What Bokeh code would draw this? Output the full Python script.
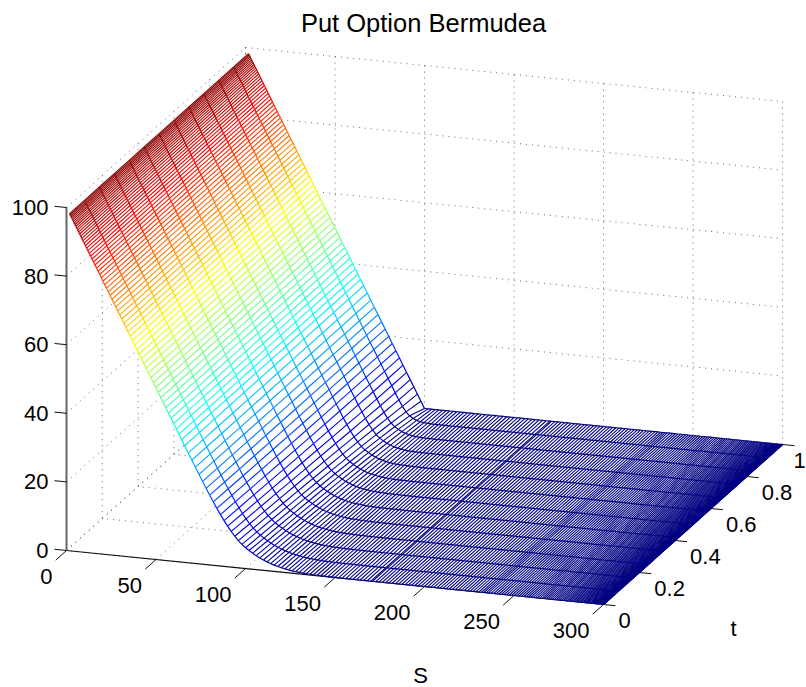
from bokeh.embed import file_html
from bokeh.models import Range1d, ColumnDataSource
from bokeh.plotting import figure
from bokeh.resources import INLINE
from bokeh.core.properties import value

TITLE = "Put Option Bermudea"
S_TICKS = [0, 50, 100, 150, 200, 250, 300]
T_TICKS = [0, 0.2, 0.4, 0.6, 0.8, 1]
T_TICK_TEXT = ["0", "0.2", "0.4", "0.6", "0.8", "1"]
V_TICKS = [0, 20, 40, 60, 80, 100]
T_LINES = [0, 1/12, 2/12, 3/12, 4/12, 5/12, 6/12, 7/12, 8/12, 9/12, 10/12, 11/12, 1]

# mesh lines below the knee, all t: option is worth its deep in-the-money value
S_LEFT = [1.70,2.00,2.32,2.66,3.02,3.41,3.82,4.26,4.71,5.19,5.70,6.22,6.77,7.34,7.93,8.55,9.19,9.85,10.53,11.24,
          11.96,12.71,13.48,14.27,15.09,15.92,16.78,17.65,18.55,19.47,20.41,21.37,22.35,23.35,24.37,25.41,26.47,
          27.55,28.65,29.76,30.89,32.04,33.21,34.40,35.60,36.82,38.06,39.31,40.58,41.86,43.16,44.47,45.80,47.14,
          48.50,49.87,51.25,52.65,54.06,55.48,56.92,58.37,59.83,61.30,62.79,64.29]
V_LEFT = [98.30,98.00,97.68,97.34,96.98,96.59,96.18,95.74,95.29,94.81,94.30,93.78,93.23,92.66,92.07,91.45,90.81,90.15,89.47,88.76,
          88.04,87.29,86.52,85.73,84.91,84.08,83.22,82.35,81.45,80.53,79.59,78.63,77.65,76.65,75.63,74.59,73.53,
          72.45,71.35,70.24,69.11,67.96,66.79,65.60,64.40,63.18,61.94,60.69,59.42,58.14,56.84,55.53,54.20,52.86,
          51.50,50.13,48.75,47.35,45.94,44.52,43.08,41.63,40.17,38.70,37.21,35.71]

# mesh lines across the knee, values per t line (rows short on the right continue at 0)
S_KNEE = [66,68,70,72,74,76,78,80,82,84,86,88,90,92,94,96,98,100,102,104,106,108,110,112,114,116,118,120,122,124,
          126,128,130,132,134,136,138,140,142,144,146,148,150,152,154,156,158,160,162,164,166,168,170]
V_T00 = [34.01,32.02,30.04,28.06,26.10,24.15,22.23,20.33,18.50,16.70,14.97,13.34,11.81,10.39,9.09,7.92,6.93,
         6.06,5.34,4.67,4.06,3.50,3.01,2.57,2.17,1.82,1.52,1.26,1.05,.85,.69,.56,.44,.35,.27,.21,.17,.13,.10,.08,.06,.05,.03,.02,.02,.01,.01,.01]
V_T01 = [34.01,32.01,30.03,28.05,26.07,24.12,22.18,20.28,18.41,16.60,14.86,13.19,11.62,10.18,8.85,7.68,6.67,
         5.81,5.08,4.41,3.81,3.26,2.78,2.36,1.98,1.64,1.35,1.12,.90,.73,.58,.47,.36,.28,.22,.17,.13,.10,.07,.06,.04,.03,.02,.02,.01,.01,.01,.01]
V_T02 = [34.00,32.01,30.02,28.03,26.05,24.08,22.14,20.21,18.33,16.50,14.72,13.04,11.43,9.96,8.62,7.43,6.40,
         5.54,4.80,4.15,3.55,3.01,2.55,2.14,1.78,1.46,1.18,.97,.78,.61,.49,.37,.28,.22,.17,.13,.10,.07,.06,.04,.03,.02,.01,.01,.01]
V_T03 = [34.00,32.00,30.01,28.02,26.04,24.06,22.10,20.16,18.25,16.39,14.59,12.87,11.24,9.74,8.38,7.16,6.12,
         5.25,4.53,3.88,3.29,2.76,2.30,1.91,1.55,1.25,1.01,.82,.63,.50,.38,.29,.22,.16,.13,.09,.07,.05,.04,.03,.02,.01,.01]
V_T04 = [34,32,30,28.01,26.02,24.04,22.07,20.12,18.19,16.30,14.47,12.72,11.05,9.51,8.12,6.88,5.82,
         4.95,4.23,3.59,3.00,2.49,2.05,1.68,1.35,1.07,.86,.66,.51,.38,.30,.22,.16,.12,.09,.06,.04,.03,.02,.01,.01]
V_T05 = [34,32,30,28,26.01,24.02,22.04,20.07,18.13,16.22,14.36,12.57,10.87,9.28,7.86,6.59,5.52,
         4.63,3.91,3.26,2.71,2.22,1.80,1.43,1.13,.88,.68,.52,.39,.29,.21,.15,.11,.08,.05,.04,.03,.02,.01,.01]
V_T06 = [34,32,30,28,26,24.01,22.02,20.04,18.08,16.15,14.26,12.43,10.69,9.05,7.58,6.28,5.18,
         4.29,3.57,2.95,2.39,1.92,1.52,1.18,.91,.70,.53,.39,.28,.19,.14,.10,.06,.05,.03,.02,.01,.01]
V_T07 = [34,32,30,28,26,24,22.01,20.02,18.04,16.08,14.16,12.28,10.50,8.81,7.29,5.94,4.81,
         3.91,3.20,2.58,2.05,1.61,1.24,.92,.70,.51,.36,.26,.18,.12,.08,.05,.04,.02,.01,.01]
V_T08 = [34,32,30,28,26,24,22,20.01,18.02,16.04,14.08,12.17,10.32,8.58,6.98,5.59,4.41,
         3.50,2.80,2.20,1.69,1.27,.94,.68,.48,.33,.22,.15,.10,.06,.04,.03,.01,.01]
V_T09 = [34,32,30,28,26,24,22,20,18,16.01,14.03,12.08,10.17,8.35,6.67,5.19,3.96,
         3.03,2.33,1.75,1.28,.91,.63,.43,.28,.17,.11,.06,.04,.02,.01,.01]
V_T10 = [34,32,30,28,26,24,22,20,18,16,14.01,12.02,10.06,8.15,6.36,4.76,3.44,
         2.47,1.79,1.25,.84,.53,.33,.19,.11,.06,.03,.02,.01]
V_T11 = [34,32,30,28,26,24,22,20,18,16,14,12,10.00,8.02,6.08,4.29,2.79,
         1.75,1.10,.64,.34,.17,.07,.03,.01]
V_T12 = [34,32,30,28,26,24,22,20,18,16,14,12,10,8,6,4,2,0]
V_KNEE_ROWS = [V_T00,V_T01,V_T02,V_T03,V_T04,V_T05,V_T06,V_T07,V_T08,V_T09,V_T10,V_T11,V_T12]

# mesh lines above the knee: value is 0 on every t line
S_RIGHT = [170.97,172.80,174.64,176.47,178.30,180.13,181.95,183.77,185.59,187.40,189.21,191.01,192.81,194.60,196.39,
           198.17,199.94,201.71,203.47,205.22,206.97,208.70,210.43,212.15,213.86,215.56,217.25,218.93,220.60,222.25,
           223.90,225.54,227.16,228.77,230.37,231.90,233.20,234.50,235.71,237.21,238.70,240.17,241.63,243.08,244.52,
           245.94,247.35,248.75,250.13,251.50,252.86,254.20,255.53,256.84,258.14,259.42,260.69,261.94,263.18,264.40,
           265.60,266.79,267.96,269.11,270.24,271.35,272.45,273.53,274.59,275.63,276.65,277.65,278.63,279.59,280.53,
           281.45,282.35,283.22,284.08,284.91,285.73,286.52,287.29,288.04,288.76,289.47,290.15,290.81,291.45,292.07,
           292.66,293.23,293.78,294.30,294.81,295.29,295.74,296.18,296.59,296.98,297.34,297.68,298.00,298.30,298.57,
           298.82,299.04,299.24,299.42,299.57,299.70,299.81,299.89,299.95,300.00]

# ------- view: MATLAB-style orthographic box, in page pixels -------
OX, OY = 66.0, 550.0
SX, SY = 537.0 / 300, 54.0 / 300
TX, TY = 179.0, -160.0
VY = -343.0 / 100
FONT = value("Liberation Sans")


def px(s, t, v):
    return OX + SX * s + TX * t


def py(s, t, v):
    return OY + SY * s + TY * t + VY * v


def jet(v):
    x = min(max(v / 99.0, 0.0), 1.0)
    c = lambda a: int(round(255 * min(max(1.5 - abs(4 * x - a), 0.0), 1.0)))
    return "#%02x%02x%02x" % (c(3), c(2), c(1))


S_ALL = S_LEFT + S_KNEE + S_RIGHT
n_knee = len(S_KNEE)
knee = [r + [0.0] * (n_knee - len(r)) for r in V_KNEE_ROWS]
V = [V_LEFT + knee[k] + [0.0] * len(S_RIGHT) for k in range(len(T_LINES))]

p = figure(width=806, height=687, x_range=Range1d(0, 806), y_range=Range1d(687, 0),
           output_backend="svg", toolbar_location=None, min_border=0, outline_line_color=None)
p.xaxis.visible = False
p.yaxis.visible = False
p.grid.visible = False

# dotted box grid
gx, gy = [], []


def add(points, xs=gx, ys=gy):
    xs.append([px(*q) for q in points])
    ys.append([py(*q) for q in points])


for s in S_TICKS:
    add([(s, 0, 0), (s, 1, 0), (s, 1, 100)])
for t in T_TICKS:
    add([(300, t, 0), (0, t, 0), (0, t, 100)])
for v in V_TICKS:
    add([(0, 0, v), (0, 1, v), (300, 1, v)])
p.multi_line(gx, gy, line_color="#000000", line_width=0.8, line_dash="1 5", line_alpha=0.75)

# axes
p.line([px(0, 0, 0), px(300, 0, 0)], [py(0, 0, 0), py(300, 0, 0)], line_color="#111111", line_width=1.2)
p.line([px(300, 0, 0), px(300, 1, 0)], [py(300, 0, 0), py(300, 1, 0)], line_color="#111111", line_width=1.2)
p.line([px(0, 0, 0), px(0, 0, 100)], [py(0, 0, 0), py(0, 0, 100)], line_color="#666666", line_width=2)

# white faces of the mesh hide the grid behind it
last = len(T_LINES) - 1
ox = [px(s, 0, V[0][j]) for j, s in enumerate(S_ALL)] + [px(s, 1, V[last][j]) for j, s in reversed(list(enumerate(S_ALL)))]
oy = [py(s, 0, V[0][j]) for j, s in enumerate(S_ALL)] + [py(s, 1, V[last][j]) for j, s in reversed(list(enumerate(S_ALL)))]
p.patch(ox, oy, fill_color="#ffffff", line_color=None)

# mesh lines along t, then along S, each piece coloured by height
x0, y0, x1, y1, col = [], [], [], [], []
for j, s in enumerate(S_ALL):
    for k in range(last):
        a, b = V[k][j], V[k + 1][j]
        x0.append(px(s, T_LINES[k], a)); y0.append(py(s, T_LINES[k], a))
        x1.append(px(s, T_LINES[k + 1], b)); y1.append(py(s, T_LINES[k + 1], b))
        col.append(jet((a + b) / 2))
p.segment(x0="x0", y0="y0", x1="x1", y1="y1", line_color="c", line_width=1.1,
          source=ColumnDataSource(dict(x0=x0, y0=y0, x1=x1, y1=y1, c=col)))

x0, y0, x1, y1, col = [], [], [], [], []
for k, t in enumerate(T_LINES):
    for j in range(len(S_ALL) - 1):
        a, b = V[k][j], V[k][j + 1]
        x0.append(px(S_ALL[j], t, a)); y0.append(py(S_ALL[j], t, a))
        x1.append(px(S_ALL[j + 1], t, b)); y1.append(py(S_ALL[j + 1], t, b))
        col.append(jet((a + b) / 2))
p.segment(x0="x0", y0="y0", x1="x1", y1="y1", line_color="c", line_width=1.2,
          source=ColumnDataSource(dict(x0=x0, y0=y0, x1=x1, y1=y1, c=col)))

# tick marks
tx, ty = [], []
for s in S_TICKS:
    add([(s, 0, 0), (s, -0.06, 0)], tx, ty)
for t in T_TICKS:
    add([(300, t, 0), (306.7, t, 0)], tx, ty)
for v in V_TICKS:
    add([(0, 0, v), (-6.7, 0, v)], tx, ty)
p.multi_line(tx, ty, line_color="#111111", line_width=1)

# texts
TICK_SIZE = "22px"
p.text([px(s, 0, 0) - 14 for s in S_TICKS], [py(s, 0, 0) + 26 for s in S_TICKS], text=[str(s) for s in S_TICKS],
       text_align="right", text_baseline="middle", text_font=FONT, text_font_size=TICK_SIZE, text_color="#000000")
p.text([min(px(300, t, 0) + 15, 793) for t in T_TICKS], [py(300, t, 0) + 16 for t in T_TICKS], text=T_TICK_TEXT,
       text_align="left", text_baseline="middle", text_font=FONT, text_font_size=TICK_SIZE, text_color="#000000")
p.text([48] * len(V_TICKS), [py(0, 0, v) for v in V_TICKS], text=[str(v) for v in V_TICKS],
       text_align="right", text_baseline="middle", text_font=FONT, text_font_size=TICK_SIZE, text_color="#000000")
p.text([423], [22.5], text=[TITLE], text_align="center", text_baseline="middle",
       text_font=FONT, text_font_size="25.5px", text_color="#000000")
p.text([420], [675], text=["S"], text_align="center", text_baseline="middle",
       text_font=FONT, text_font_size=TICK_SIZE, text_color="#000000")
p.text([733], [628], text=["t"], text_align="center", text_baseline="middle",
       text_font=FONT, text_font_size=TICK_SIZE, text_color="#000000")

open("out.html", "w").write(file_html(p, INLINE))
